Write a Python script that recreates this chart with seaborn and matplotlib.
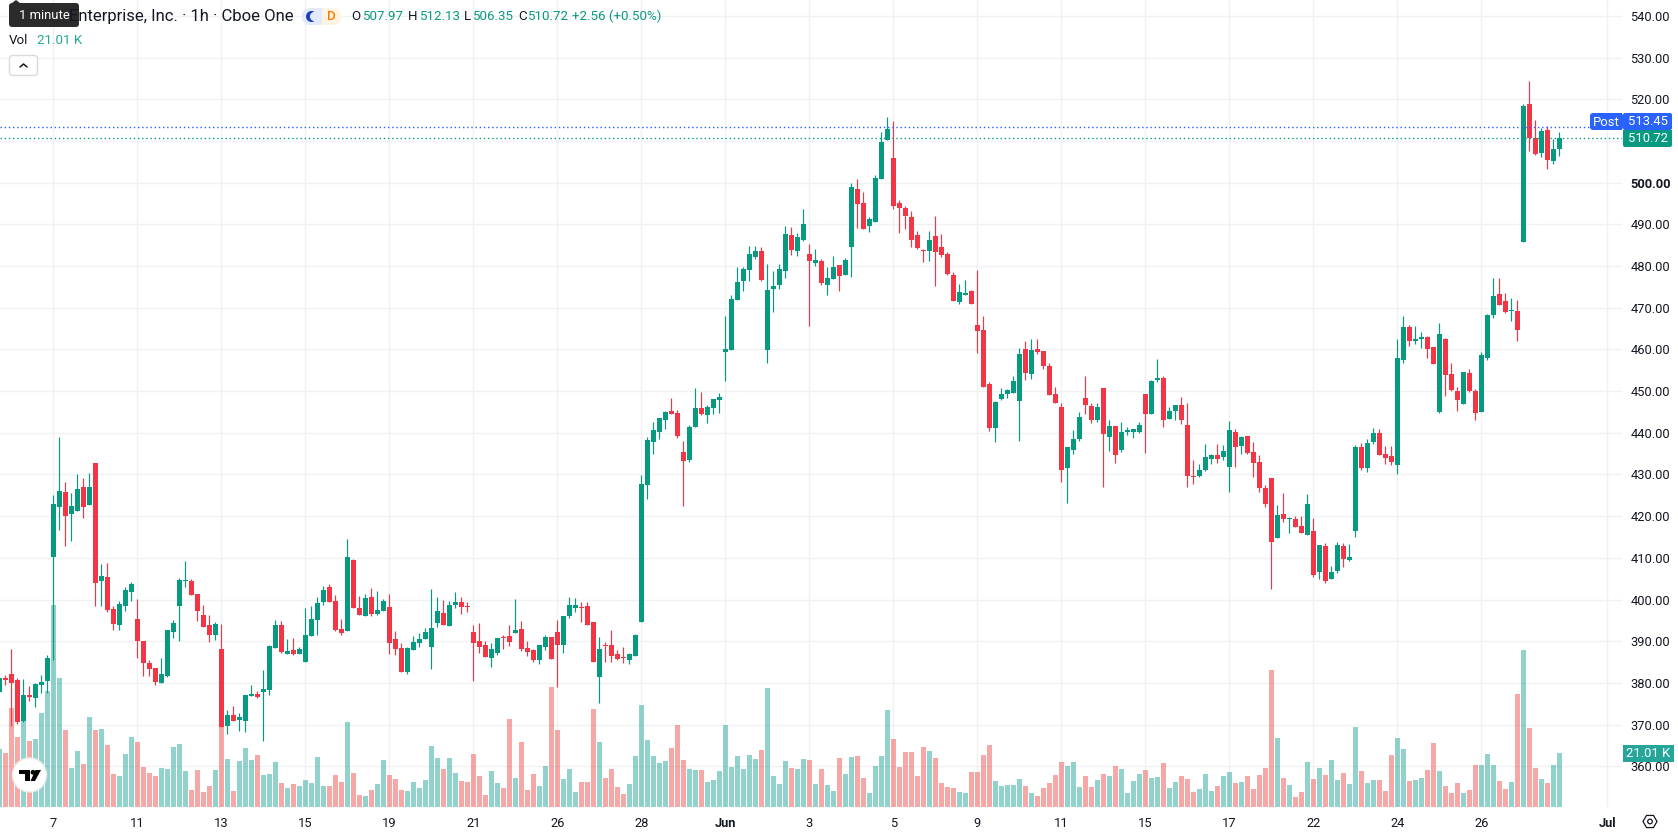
import numpy as np
import pandas as pd
import matplotlib
matplotlib.use("Agg")
import matplotlib.pyplot as plt
from matplotlib.patches import Circle, FancyBboxPatch, Polygon, Rectangle
import seaborn as sns

# Hourly OHLC series, oldest first
open_prices = [
    377.9, 381.2, 382.2, 380.7, 370.9, 377.1, 376.5, 379.5, 380.5, 410.1,
    422.2, 425.8, 420.6, 421.3, 427.0, 422.7, 432.8, 404.5, 405.4, 397.8,
    393.9, 398.5, 401.8, 395.4, 390.1, 384.8, 383.6, 380.0, 381.7, 392.2,
    398.5, 404.5, 404.5, 401.4, 396.3, 393.9, 391.5, 388.2, 369.7, 372.3,
    371.1, 370.9, 376.9, 377.4, 377.8, 378.3, 388.4, 393.9, 387.0, 387.9,
    387.0, 385.0, 391.3, 395.1, 399.4, 403.0, 399.7, 393.0, 392.5, 409.5,
    398.0, 396.1, 400.6, 396.6, 397.3, 398.2, 390.6, 388.4, 382.6, 387.9,
    389.6, 390.6, 388.6, 394.4, 396.8, 393.7, 398.7, 399.4, 398.5, 392.2,
    390.1, 389.1, 386.0, 387.2, 391.1, 391.3, 392.0, 393.0, 388.4, 387.9,
    385.5, 388.6, 391.0, 392.2, 389.1, 396.1, 398.0, 398.2, 398.5, 394.6,
    381.4, 389.1, 389.1, 387.0, 386.2, 385.5, 386.5, 394.6, 427.5, 437.8,
    440.2, 443.0, 445.2, 444.7, 435.4, 433.5, 441.4, 445.9, 444.3, 446.0,
    447.9, 459.4, 459.8, 471.8, 476.4, 479.0, 482.2, 483.6, 459.8, 474.5,
    475.4, 478.8, 487.4, 483.6, 486.3, 482.9, 480.7, 481.2, 475.4, 476.9,
    480.2, 477.9, 484.6, 498.5, 495.1, 489.6, 490.5, 500.9, 510.2, 505.9,
    495.1, 493.9, 491.8, 487.4, 483.8, 483.6, 487.2, 484.6, 482.9, 477.9,
    471.4, 473.0, 474.0, 465.9, 464.6, 451.7, 441.1, 448.1, 449.3, 449.5,
    447.6, 460.1, 454.1, 460.1, 459.6, 456.0, 449.3, 446.2, 431.5, 435.9,
    438.5, 448.3, 446.4, 443.0, 450.7, 439.0, 441.6, 435.9, 440.2, 440.2,
    440.2, 449.3, 444.5, 452.6, 453.1, 443.3, 445.2, 446.7, 441.8, 429.6,
    429.6, 431.1, 433.7, 434.7, 434.2, 431.8, 440.2, 436.8, 439.2, 435.4,
    433.0, 426.7, 429.1, 414.8, 420.5, 419.3, 419.3, 417.6, 415.5, 416.4,
    406.6, 412.8, 404.9, 406.8, 412.8, 409.5, 416.4, 436.6, 431.5, 437.8,
    439.9, 434.9, 434.4, 432.3, 457.4, 465.3, 462.0, 462.5, 463.0, 460.6,
    445.0, 462.5, 454.1, 450.0, 446.9, 454.3, 450.0, 445.0, 458.0, 468.2,
    473.3, 471.6, 469.2, 469.2, 485.8, 518.9, 510.7, 507.1, 512.6, 505.2, 507.97,
]
close_prices = [
    381.1, 380.8, 380.0, 370.6, 377.1, 376.7, 379.8, 380.2, 386.0, 423.0,
    426.1, 420.1, 422.5, 426.6, 422.2, 427.0, 404.0, 405.7, 397.5, 394.2,
    399.0, 402.3, 403.8, 390.1, 384.8, 383.4, 380.2, 382.2, 392.7, 394.4,
    404.7, 404.7, 401.1, 397.3, 393.4, 391.5, 394.2, 369.4, 372.3, 370.9,
    371.8, 377.1, 377.4, 376.6, 378.6, 388.9, 393.9, 387.4, 387.7, 387.0,
    388.2, 391.5, 395.4, 399.2, 402.3, 399.4, 392.7, 392.0, 410.2, 398.0,
    396.3, 400.4, 396.6, 397.5, 399.7, 389.6, 388.2, 382.6, 388.4, 389.8,
    390.6, 392.2, 393.2, 397.3, 393.9, 398.7, 399.4, 398.2, 398.2, 389.6,
    388.6, 386.2, 388.2, 390.8, 390.8, 389.8, 392.7, 388.2, 387.4, 385.5,
    389.1, 391.0, 385.8, 389.1, 396.1, 398.7, 398.7, 398.0, 393.9, 385.0,
    388.2, 388.9, 386.5, 385.8, 386.0, 387.0, 391.5, 427.8, 438.3, 440.7,
    443.6, 445.0, 444.5, 439.2, 433.2, 441.4, 446.0, 444.5, 446.2, 448.1,
    448.6, 460.1, 472.1, 476.1, 479.3, 482.9, 483.6, 476.6, 474.2, 475.2,
    479.3, 487.7, 483.8, 487.0, 490.1, 481.2, 481.4, 475.9, 477.1, 479.7,
    477.6, 481.4, 499.0, 494.9, 488.9, 491.3, 501.1, 509.8, 512.8, 494.4,
    493.9, 492.0, 486.3, 484.3, 483.6, 486.3, 483.4, 482.7, 478.1, 471.6,
    473.8, 473.5, 470.9, 464.4, 451.0, 441.1, 447.4, 449.3, 450.3, 452.4,
    458.9, 454.3, 459.9, 459.4, 456.0, 449.0, 447.1, 431.1, 436.6, 438.5,
    443.8, 446.6, 443.0, 446.2, 439.7, 441.6, 434.7, 440.2, 440.7, 440.9,
    441.8, 444.5, 452.4, 453.1, 443.0, 445.2, 446.7, 443.0, 429.6, 429.4,
    431.1, 434.2, 434.7, 433.7, 435.6, 440.7, 436.6, 439.0, 435.1, 432.7,
    426.7, 422.9, 413.8, 420.3, 419.3, 419.6, 417.4, 416.0, 422.9, 405.9,
    413.1, 404.4, 406.6, 413.1, 409.7, 410.2, 436.6, 431.5, 437.5, 439.9,
    434.7, 433.9, 433.0, 457.9, 465.3, 462.0, 462.5, 463.0, 460.1, 456.5,
    463.7, 453.9, 450.2, 447.9, 454.6, 450.0, 444.7, 458.7, 468.2, 472.8,
    470.6, 469.0, 469.4, 464.6, 518.4, 510.7, 506.9, 512.4, 505.4, 508.1, 510.72,
]
high_prices = [
    381.3, 381.9, 388.2, 381.1, 381.0, 379.3, 380.0, 381.9, 386.7, 425.1,
    439.0, 428.2, 425.6, 430.2, 429.2, 430.4, 432.8, 408.6, 408.8, 398.5,
    399.7, 403.0, 404.2, 400.2, 390.1, 385.5, 383.6, 386.0, 392.7, 395.1,
    405.2, 409.3, 405.0, 401.4, 398.7, 396.3, 394.6, 394.2, 373.5, 374.5,
    372.8, 377.1, 379.5, 378.0, 383.1, 389.1, 395.1, 394.9, 390.6, 390.8,
    388.6, 398.0, 398.5, 400.6, 403.3, 403.8, 401.1, 395.4, 414.6, 409.8,
    400.9, 401.4, 402.8, 402.1, 400.2, 401.4, 392.5, 389.6, 388.6, 391.3,
    392.0, 393.2, 402.6, 400.6, 399.9, 399.7, 401.8, 400.6, 399.4, 393.9,
    394.4, 390.1, 389.6, 390.8, 391.5, 393.9, 400.2, 394.9, 390.1, 388.2,
    389.1, 391.5, 391.0, 395.1, 396.1, 400.6, 400.4, 399.4, 399.4, 394.6,
    391.0, 389.8, 392.7, 387.9, 388.6, 387.2, 391.8, 429.9, 439.0, 442.6,
    443.6, 445.2, 448.3, 445.4, 438.0, 441.9, 450.7, 449.8, 446.7, 448.1,
    449.5, 468.0, 473.0, 479.7, 479.7, 484.8, 484.8, 484.5, 480.5, 478.8,
    480.5, 489.6, 489.4, 487.9, 493.7, 485.3, 484.0, 481.7, 479.7, 482.4,
    480.2, 481.9, 500.0, 500.9, 497.7, 491.8, 501.8, 512.1, 515.8, 514.8,
    495.8, 494.4, 493.2, 488.4, 484.0, 488.4, 492.0, 487.7, 483.4, 478.6,
    475.7, 476.6, 474.2, 479.0, 468.0, 452.2, 447.6, 450.7, 450.5, 453.6,
    460.3, 462.0, 462.5, 462.5, 459.6, 456.7, 451.0, 447.1, 436.6, 440.7,
    445.0, 453.6, 447.1, 447.1, 450.7, 443.0, 441.6, 442.6, 441.4, 440.9,
    442.6, 449.3, 452.6, 457.7, 453.6, 446.2, 446.7, 448.6, 447.1, 433.5,
    432.5, 437.3, 434.9, 437.3, 437.1, 442.8, 440.9, 439.2, 439.2, 437.8,
    434.7, 427.5, 429.1, 422.6, 425.5, 419.8, 420.0, 420.0, 425.3, 419.6,
    413.1, 413.5, 408.0, 413.8, 413.5, 413.3, 437.1, 437.5, 438.5, 441.1,
    440.9, 436.8, 436.8, 462.5, 468.0, 465.8, 465.6, 464.1, 463.2, 460.6,
    466.3, 462.7, 456.7, 451.0, 454.6, 455.3, 450.5, 459.4, 468.5, 477.1,
    477.1, 473.5, 472.3, 471.8, 518.9, 524.4, 515.0, 513.1, 513.6, 510.5, 512.13,
]
low_prices = [
    377.5, 379.4, 369.7, 370.2, 370.6, 375.7, 374.2, 377.5, 377.5, 385.5,
    416.7, 412.9, 414.1, 421.3, 419.6, 422.7, 398.5, 398.5, 397.0, 392.7,
    392.7, 397.3, 399.7, 386.0, 381.7, 381.7, 379.5, 380.0, 381.4, 390.8,
    390.1, 403.0, 401.1, 394.9, 393.4, 389.8, 390.3, 369.4, 367.8, 370.9,
    368.5, 368.2, 376.9, 376.4, 366.1, 377.1, 388.4, 387.2, 387.0, 386.7,
    387.0, 385.0, 391.3, 391.5, 398.7, 399.4, 392.5, 391.5, 392.5, 398.0,
    396.3, 396.1, 396.1, 396.3, 397.3, 387.0, 386.7, 382.6, 382.2, 387.9,
    388.6, 390.6, 383.4, 393.4, 393.9, 393.7, 398.0, 396.6, 397.0, 380.5,
    387.2, 386.2, 383.8, 386.7, 388.2, 388.9, 392.0, 387.7, 386.5, 385.0,
    384.6, 387.9, 385.8, 379.0, 387.2, 395.6, 397.0, 394.6, 393.9, 385.0,
    375.2, 385.0, 385.0, 385.5, 384.8, 384.6, 386.5, 394.6, 424.2, 435.0,
    438.5, 440.9, 444.5, 438.7, 422.4, 433.0, 441.4, 444.3, 442.3, 444.5,
    444.7, 452.4, 459.8, 471.8, 474.0, 476.4, 481.7, 476.4, 456.7, 469.0,
    474.5, 477.1, 482.6, 482.4, 486.0, 465.6, 480.0, 475.4, 473.0, 476.9,
    474.0, 477.9, 477.4, 489.1, 488.9, 488.2, 490.5, 500.9, 510.2, 493.7,
    487.9, 488.9, 484.5, 484.0, 481.0, 481.2, 475.1, 482.2, 477.9, 471.6,
    470.9, 473.0, 470.9, 459.1, 451.0, 440.4, 437.8, 447.9, 448.3, 449.5,
    438.0, 452.7, 452.9, 458.9, 455.3, 449.0, 447.1, 428.2, 423.1, 434.9,
    438.0, 444.5, 442.3, 442.6, 427.0, 435.6, 432.7, 435.4, 439.5, 438.7,
    439.9, 435.1, 444.5, 452.2, 441.4, 443.3, 443.0, 442.1, 427.0, 427.7,
    429.4, 430.8, 432.5, 432.7, 433.5, 425.8, 431.8, 434.9, 434.9, 429.4,
    425.8, 422.2, 402.5, 414.8, 418.6, 415.9, 417.4, 416.0, 415.5, 405.4,
    404.9, 403.9, 404.9, 406.3, 407.8, 409.2, 415.0, 431.1, 430.6, 437.3,
    434.7, 432.5, 432.3, 430.1, 456.7, 460.8, 461.3, 460.3, 458.0, 456.5,
    444.7, 448.8, 450.0, 445.2, 446.9, 449.8, 443.0, 445.0, 457.5, 467.5,
    470.6, 468.7, 466.8, 462.0, 485.8, 507.6, 506.6, 506.2, 503.3, 504.5, 506.35,
]
# Traded volume per bar, in thousands
volumes = [
    22.6, 21.0, 38.5, 27.2, 33.5, 25.7, 26.5, 36.6, 45.1, 78.6,
    50.2, 30.0, 15.2, 21.8, 16.7, 35.0, 30.0, 30.3, 24.1, 12.8,
    12.1, 20.6, 27.2, 25.3, 15.6, 13.2, 12.1, 15.2, 14.8, 23.3,
    24.5, 14.0, 6.6, 14.4, 5.8, 8.2, 14.4, 31.1, 18.7, 6.2,
    17.9, 23.0, 18.3, 20.2, 12.5, 12.8, 17.5, 9.3, 7.4, 8.9,
    8.2, 10.5, 9.3, 19.5, 8.2, 8.2, 12.5, 9.7, 33.1, 13.2,
    4.7, 4.3, 6.6, 8.9, 18.3, 12.5, 10.9, 6.6, 6.2, 9.7,
    7.4, 10.5, 23.7, 19.1, 14.8, 19.1, 13.2, 10.1, 9.7, 20.6,
    12.1, 4.7, 14.0, 9.3, 7.4, 34.2, 11.3, 25.3, 6.6, 12.8,
    8.2, 16.0, 46.7, 30.0, 10.9, 14.8, 5.8, 9.7, 9.7, 38.1,
    25.3, 11.3, 14.8, 7.8, 5.1, 8.9, 19.8, 39.7, 26.1, 19.8,
    17.1, 17.9, 23.0, 31.9, 18.3, 14.8, 14.4, 14.4, 9.7, 10.5,
    14.0, 31.9, 15.6, 19.8, 14.8, 20.2, 18.7, 22.2, 46.3, 12.1,
    8.9, 17.9, 15.2, 14.8, 18.7, 18.3, 8.9, 14.8, 8.6, 6.2,
    19.1, 12.8, 19.5, 19.8, 11.3, 5.4, 16.0, 19.8, 37.7, 26.5,
    15.6, 21.4, 21.4, 12.1, 23.3, 21.8, 19.1, 9.3, 7.8, 7.4,
    5.8, 5.4, 13.6, 13.6, 20.2, 24.1, 10.1, 8.2, 8.6, 8.6,
    10.9, 8.2, 5.4, 4.3, 7.4, 9.3, 12.5, 17.5, 16.0, 17.5,
    7.8, 12.1, 7.8, 10.5, 12.8, 12.1, 16.0, 14.8, 5.4, 10.1,
    12.8, 14.4, 11.3, 11.7, 17.1, 7.4, 9.7, 12.1, 10.9, 5.8,
    7.0, 12.8, 6.2, 8.2, 12.1, 13.6, 9.3, 9.7, 12.1, 7.0,
    12.5, 15.2, 53.3, 26.8, 11.3, 8.6, 3.9, 5.8, 17.5, 10.9,
    15.2, 12.5, 18.3, 10.5, 13.2, 8.9, 31.1, 14.0, 9.3, 10.5,
    10.5, 6.2, 20.2, 26.8, 22.6, 10.1, 10.5, 11.3, 14.4, 24.9,
    14.0, 8.2, 5.4, 9.3, 5.4, 6.6, 16.3, 16.3, 20.6, 16.3,
    10.1, 7.0, 9.7, 44.0, 61.1, 30.7, 15.2, 10.9, 9.3, 16.3, 21.01,
]

# Date axis: bar position of each label
date_positions = [9, 23, 37, 51, 65, 79, 93, 107, 121, 135, 149, 163, 177, 191, 205, 219, 233, 247, 268]
date_labels = ["7", "11", "13", "15", "19", "21", "26", "28", "Jun", "3", "5", "9", "11", "15", "17", "22", "24", "26", "Jul"]
month_labels = ["Jun", "Jul"]
price_ticks = list(range(360, 550, 10))
covered_price_tick = 510

post_price = 513.45
last_price = 510.72
last_volume_text = "21.01 K"

UP = "#089981"
DOWN = "#F23645"
VOL_UP = "#26A69A"
VOL_DOWN = "#EF5350"
GRID = "#F0F1F3"
INK = "#131722"
BLUE = "#2962FF"

sns.set_theme(style="white")
plt.rcParams["font.family"] = ["Roboto", "DejaVu Sans"]

W, H = 1678, 835
PANE_W, PANE_H = 1622, 807
fig = plt.figure(figsize=(W / 100, H / 100), dpi=100, facecolor="white")
rect = [0, (H - PANE_H) / H, PANE_W / W, PANE_H / H]

# Three stacked layers: grid, translucent volume, candles
grid_ax = fig.add_axes(rect, zorder=0)
vol_ax = fig.add_axes(rect, zorder=1, facecolor="none")
ax = fig.add_axes(rect, zorder=2, facecolor="none")

X_RANGE = (0.117, 270.45)
PRICE_RANGE = (350.24, 543.81)
VOLUME_RANGE = (0, 313.9)

frame = pd.DataFrame({
    "pos": np.arange(len(open_prices)),
    "open": open_prices,
    "close": close_prices,
    "high": high_prices,
    "low": low_prices,
    "volume": volumes,
})
frame["direction"] = np.where(frame["close"] >= frame["open"], "up", "down")

sns.barplot(
    data=frame, x="pos", y="volume", hue="direction",
    palette={"up": VOL_UP, "down": VOL_DOWN}, native_scale=True, dodge=False,
    width=0.83, alpha=0.5, saturation=1, errorbar=None, legend=False,
    linewidth=0, ax=vol_ax,
)

colors = frame["direction"].map({"up": UP, "down": DOWN})
ax.vlines(frame["pos"], frame["low"], frame["high"], colors=colors, linewidth=0.85)
body_low = frame[["open", "close"]].min(axis=1)
body_size = (frame["close"] - frame["open"]).abs().clip(lower=0.25)
ax.bar(frame["pos"], body_size, bottom=body_low, width=0.83, color=colors, linewidth=0)

# Last-price and post-market dotted lines
ax.plot([X_RANGE[0], 264.9], [post_price, post_price], color=BLUE, lw=1, ls=(0, (1, 2)))
ax.plot(X_RANGE, [last_price, last_price], color="#00A080", lw=1, ls=(0, (1, 2)))

for a in (grid_ax, vol_ax, ax):
    a.set_xlim(*X_RANGE)
    a.set_xlabel("")
    a.set_ylabel("")
    sns.despine(ax=a, left=True, right=True, top=True, bottom=True)
vol_ax.set_ylim(*VOLUME_RANGE)
ax.set_ylim(*PRICE_RANGE)
grid_ax.set_ylim(*PRICE_RANGE)
for a in (vol_ax, ax):
    a.set_xticks([])
    a.set_yticks([])

grid_ax.set_xticks(date_positions, date_labels)
grid_ax.set_yticks(price_ticks, ["" if p == covered_price_tick else f"{p:.2f}" for p in price_ticks])
grid_ax.yaxis.tick_right()
grid_ax.grid(True, color=GRID, linewidth=1)
grid_ax.set_axisbelow(True)
grid_ax.tick_params(axis="both", length=0, labelsize=9.3, colors=INK)
grid_ax.tick_params(axis="y", pad=6)
grid_ax.tick_params(axis="x", pad=7)
for label in grid_ax.get_xticklabels():
    if label.get_text() in month_labels:
        label.set_fontweight("bold")
for label in grid_ax.get_yticklabels():
    label.set_ha("left")
    if label.get_text() == "500.00":
        label.set_fontweight("bold")

# Header, price tags and small icons sit on a layer measured in canvas pixels
ui = fig.add_axes([0, 0, 1, 1], zorder=5, facecolor="none")
ui.set_xlim(0, W)
ui.set_ylim(H, 0)
ui.axis("off")

ui.text(294, 16, "Enterprise, Inc. · 1h · Cboe One", ha="right", va="center", fontsize=12, color=INK)


def header_value(x, letter, value, gap):
    ui.text(x, 16, letter, ha="left", va="center", fontsize=9.6, color=INK)
    ui.text(x + gap, 16, value, ha="left", va="center", fontsize=9.6, color=UP)


header_value(351, "O", "507.97", 11)
header_value(408, "H", "512.13", 11)
header_value(464, "L", "506.35", 8)
header_value(518, "C", "510.72", 9)
ui.text(572, 16, "+2.56 (+0.50%)", ha="left", va="center", fontsize=9.6, color=UP)
ui.text(9, 40.5, "Vol", ha="left", va="center", fontsize=9.6, color=INK)
ui.text(37, 40.5, last_volume_text, ha="left", va="center", fontsize=9.6, color="#22AB94")

# Tooltip over the start of the title
ui.add_patch(FancyBboxPatch((9, 3), 70, 24, boxstyle="round,pad=0,rounding_size=3",
                            fc="#2B2B2B", ec="none"))
ui.add_patch(Polygon([(12, 3), (16, 0), (20, 3)], fc="#2B2B2B", ec="none"))
ui.text(44, 15.5, "1 minute", ha="center", va="center", fontsize=9.4, color="white")

# Market-status badges
ui.add_patch(FancyBboxPatch((302, 8), 24, 17, boxstyle="round,pad=0,rounding_size=8",
                            fc="#E3EAFD", ec="none"))
ui.add_patch(FancyBboxPatch((318, 8), 23, 17, boxstyle="round,pad=0,rounding_size=8",
                            fc="#FFF3E4", ec="none"))
ui.add_patch(Rectangle((316, 8), 6, 17, fc="#E3EAFD", ec="none"))
ui.add_patch(Circle((311.5, 16.5), 5.5, fc="#1C3FB7", ec="none"))
ui.add_patch(Circle((314.5, 16.5), 4.6, fc="#E3EAFD", ec="none"))
ui.text(331, 16, "D", ha="center", va="center", fontsize=9.6, color="#FF7A00", fontweight="medium")

# Collapse button
ui.add_patch(FancyBboxPatch((9.5, 55.5), 28, 20, boxstyle="round,pad=0,rounding_size=3",
                            fc="white", ec="#D9DBE0", lw=1))
ui.plot([20, 23.5, 27], [67, 64, 67], color=INK, lw=1.1)

# Price tags on the right-hand scale
ui.add_patch(FancyBboxPatch((1590, 113), 33, 17, boxstyle="round,pad=0,rounding_size=3",
                            fc=BLUE, ec="none"))
ui.add_patch(Rectangle((1606, 113), 16, 17, fc=BLUE, ec="none"))
ui.text(1606, 122, "Post", ha="center", va="center", fontsize=9.4, color="white")
ui.add_patch(FancyBboxPatch((1623, 113), 49, 17, boxstyle="round,pad=0,rounding_size=2",
                            fc=BLUE, ec="none"))
ui.text(1648, 121.5, f"{post_price:.2f}", ha="center", va="center", fontsize=9.4, color="white")
ui.add_patch(FancyBboxPatch((1623, 130), 49, 17, boxstyle="round,pad=0,rounding_size=2",
                            fc=UP, ec="none"))
ui.add_patch(Rectangle((1623, 130), 49, 4, fc=UP, ec="none"))
ui.text(1648, 138.5, f"{last_price:.2f}", ha="center", va="center", fontsize=9.4, color="white")
ui.add_patch(Rectangle((1623, 745), 51, 17, fc="#26A69A", ec="none"))
ui.text(1648.5, 753.5, "21.01 K", ha="center", va="center", fontsize=9.4, color="white")

# Corner logo badge
ui.add_patch(Circle((29.5, 775), 17, fc="white", ec="#ECECEC", lw=1))
ui.add_patch(Polygon([(19, 770), (30, 770), (30, 781), (25, 781), (25, 774), (19, 774)], fc="black", ec="none"))
ui.add_patch(Circle((33, 772.3), 2.4, fc="black", ec="none"))
ui.add_patch(Polygon([(35.5, 770), (41, 770), (35, 781), (30.5, 781)], fc="black", ec="none"))

# Scale settings icon
hex_angles = np.deg2rad(np.arange(0, 360, 60))
ui.add_patch(Polygon(np.column_stack([1650 + 7 * np.cos(hex_angles), 821.5 + 7 * np.sin(hex_angles)]),
                     fc="none", ec=INK, lw=0.9))
ui.add_patch(Circle((1650, 821.5), 2.3, fc="none", ec=INK, lw=0.9))

fig.savefig("out.png", dpi=100)
